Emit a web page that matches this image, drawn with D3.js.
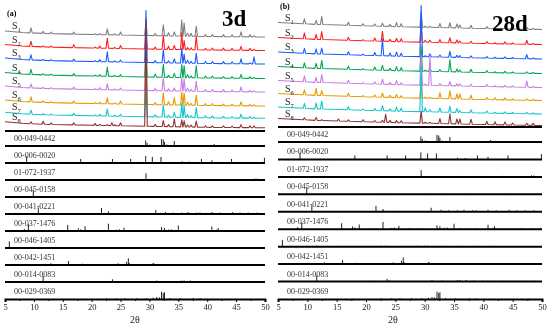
<!DOCTYPE html>
<html>
<head>
<meta charset="utf-8">
<script src="https://cdn.jsdelivr.net/npm/d3@7"></script>
<style>
  body { margin: 0; background: #fff; }
  svg { display: block; font-family: "Liberation Serif", "Times New Roman", serif; }
  svg text { font-family: "Liberation Serif", "Times New Roman", serif; }
  .txt { filter: grayscale(1); }
</style>
</head>
<body>
<svg id="chart" width="550" height="329"></svg>
<script>
// ---- data (2theta in degrees, intensities in a.u.) ----
const sampleNames = ["1", "2", "3", "4", "5", "6", "7", "8"];
const xTicks = [5, 10, 15, 20, 25, 30, 35, 40, 45, 50];

// 3 d samples: peak positions + heights of each sample at those positions
const peaks3d = [9.5, 11.6, 13.0, 16.9, 20.6, 21.4, 22.7, 23.5, 24.0, 25.0, 29.4, 31.0, 32.4, 33.3, 34.3,
                 35.6, 36.0, 36.6, 37.2, 38.1, 39.7, 40.9, 42.8, 44.3, 45.85, 47.4, 48.1];
const s1_3d = [5, 2, 1.5, 2, 1, 1, 6, 0, 1, 3, 15, 2, 11, 3, 4, 16, 13, 3, 3, 10, 2, 2, 2, 2, 5, 2, 1];
const s2_3d = [5, 1, 1, 3, 1, 2, 10, 0, 1, 3, 20, 2, 14, 3, 4, 17, 9, 2, 2, 14, 1.5, 2, 2, 2, 4, 2, 1];
const s3_3d = [5, 1, 1, 2, 1, 2, 10, 0, 1, 2, 52, 2, 13, 2, 4, 15, 9, 3, 2, 10, 2, 2, 2, 2, 5, 1, 7];
const s4_3d = [5, 1, 1, 2, 1, 1.5, 9, 0, 1, 2, 30, 3, 13, 2, 4, 13, 12, 3, 2, 12, 2, 2, 1.5, 1.5, 4, 1.5, 1];
const s5_3d = [4, 1, 1, 2, 1, 2, 6, 0, 1, 2, 30, 2, 13, 2, 3, 13, 12, 3, 2, 10, 2, 2, 2, 1.5, 5, 1.5, 1];
const s6_3d = [5, 1.5, 1, 2, 1, 1.5, 6, 0, 1, 3, 30, 2, 12, 3, 7, 13, 12, 3, 2, 10, 2, 2, 1.5, 1.5, 4, 1.5, 1];
const s7_3d = [4, 1, 1, 2, 1, 1.5, 7, 0, 1, 2, 30, 2, 12, 2, 5, 14, 12, 3, 2, 10, 2, 2, 1.5, 1.5, 4, 1.5, 1];
const s8_3d = [2, 3, 1.5, 2, 2, 1, 1, 3, 1, 3, 107, 2, 6, 2, 8, 7, 6, 2, 2, 6, 1.5, 1.5, 1.5, 1.5, 3, 2, 2];
const offset3d = [94, 80.5, 67, 52.5, 39, 25, 12.7, 3.2];
const bg3d = [[5, 6], [8, 4.5], [12, 3.5], [20, 2.5], [30, 1.5], [40, 0.5], [50, 0]];

// 28 d samples
const peaks28d = [9.5, 11.5, 12.45, 15.3, 17.0, 19.5, 21.5, 22.8, 23.35, 24.1, 25.2, 26.0, 29.4, 30.1, 30.9,
                  32.6, 34.3, 35.5, 36.0, 37.9, 40.6, 42.0, 43.7, 45.0, 47.4, 48.5];
const s1_28d = [5, 4, 8, 0, 3, 2, 2, 3, 0, 2, 4, 3, 15, 1, 1, 4, 5, 4, 3, 3, 2, 1, 2, 1, 2, 1];
const s2_28d = [6, 5, 8, 0, 3, 1, 3, 10, 0, 2, 3, 3, 15, 2, 2, 3, 5, 3, 2, 2, 2, 1, 2, 1, 4, 1];
const s3_28d = [5, 5, 6, 0, 3, 1, 3, 17, 0, 3, 4, 3, 51, 1, 3, 2, 6, 2, 2, 2, 1.5, 1, 1.5, 1, 4, 1];
const s4_28d = [5, 5, 8, 0, 3, 1, 3, 5, 0, 2, 4, 3, 25, 1, 3, 2, 12, 3, 2, 3, 2, 1, 1.5, 1, 1.5, 1];
const s5_28d = [6, 5, 8, 0, 3, 1, 2, 5, 0, 2, 4, 2, 30, 1, 30, 2, 4, 2, 2, 2, 2, 1, 1.5, 1, 6, 1];
const s6_28d = [5, 7, 5, 0, 3, 1, 2, 4, 0, 2, 3, 2, 20, 1, 1, 6, 8, 5, 5, 4, 2, 2, 2, 1, 1.5, 1];
const s7_28d = [5, 6, 8, 0, 3, 1, 2, 5, 0, 2, 4, 3, 45, 4, 2, 4, 6, 4, 2, 3, 2, 1, 1.5, 1, 1.5, 1];
const s8_28d = [2, 3, 1, 2, 1.5, 2, 1.5, 2, 8, 2, 2, 2, 12, 1, 1, 5, 10, 5, 5, 5, 3, 3, 3, 2, 2, 2];
const offset28d = [97.5, 82.5, 68, 53.5, 39.5, 26.5, 13, 1.5];
const bg28d = [[5, 7], [12, 5], [24.6, 3], [40, 1], [50, 0]];

// PDF reference cards: [2theta, relative height]
const cardNames = ["00-049-0442", "00-006-0020", "01-072-1937", "00-045-0158", "00-041-0221",
                   "00-037-1476", "00-046-1405", "00-042-1451", "00-014-0083", "00-029-0369"];
const card049_0442 = [[14.8, 1], [22.9, 1], [25.2, 1], [29.35, 5.5], [29.6, 3], [30.1, 1.5], [32.1, 7], [32.4, 6.5],
                      [32.6, 4], [33.0, 1.5], [34.3, 5], [38.6, 1], [41.2, 2], [41.6, 1], [43.9, 1], [46.5, 1], [47.1, 1]];
const card006_0020 = [[8.75, 6.7], [18.1, 4], [23.6, 4], [26.75, 4], [29.35, 7], [30.5, 6], [32.0, 6], [35.6, 1.7],
                      [36.9, 1.5], [39.0, 4], [40.8, 2.7], [44.2, 4], [49.9, 5.3]];
const card072_1937 = [[23.0, 0.8], [29.4, 6.7], [31.0, 0.8], [36.0, 1], [39.4, 1], [43.3, 1], [47.3, 1], [48.2, 1.5], [48.6, 1.3]];
const card045_0158 = [[9.9, 7.3], [22.2, 0.8], [24.3, 0.8], [31.0, 0.8], [32.8, 0.8], [37.1, 0.8], [43.8, 0.8]];
const card041_0221 = [[10.77, 6.5], [21.7, 6], [22.9, 2.7], [25.5, 1], [31.1, 4], [32.8, 2], [34.1, 1.5], [35.6, 1.5],
                      [36.7, 2], [38.2, 1.5], [38.75, 1.5], [40.8, 2], [42.2, 1.5], [44.4, 2], [45.7, 1.5], [47.1, 1.5], [48.6, 1.5]];
const card037_1476 = [[8.35, 2], [9.05, 6.7], [15.85, 6], [17.7, 2.7], [18.1, 1.7], [18.85, 4.7], [21.7, 1], [22.9, 7.3],
                      [24.3, 1.3], [24.8, 1.7], [25.6, 3.3], [27.4, 1], [29.35, 0.8], [32.1, 4], [32.6, 3], [33.3, 1.5],
                      [33.85, 1.7], [35.0, 5.5], [36.0, 1], [37.0, 0.8], [38.75, 0.8], [40.8, 4.5], [41.6, 1.3], [41.9, 3],
                      [42.2, 0.8], [43.9, 0.8], [45.7, 0.8], [46.5, 1], [48.3, 0.8], [49.7, 0.8]];
const card046_1405 = [[5.75, 6.7], [7.1, 0.8], [9.9, 0.8], [11.6, 1], [16.0, 0.8], [16.8, 0.8], [18.0, 0.8], [20.3, 0.8],
                      [21.4, 0.8], [22.6, 1], [23.3, 1], [24.0, 0.8], [26.9, 0.8], [28.1, 0.8], [28.9, 1], [30.0, 1],
                      [30.55, 1], [31.25, 0.8], [32.1, 0.8], [33.55, 0.8], [35.9, 0.8], [36.7, 0.8], [38.75, 0.8], [41.05, 0.8]];
const card042_1451 = [[12.95, 1.7], [16.0, 4], [18.4, 1.3], [24.6, 1.7], [26.05, 3.3], [26.35, 6.7], [26.5, 2], [30.65, 2],
                      [30.8, 1.5], [32.7, 0.8], [33.55, 0.8], [36.15, 0.8], [37.3, 0.8], [38.75, 0.8], [41.05, 0.8],
                      [42.3, 0.8], [43.9, 0.8], [45.7, 0.8], [48.6, 0.8], [49.4, 0.8]];
const card014_0083 = [[11.6, 6], [20.6, 0.8], [23.6, 2.7], [24.0, 1], [31.25, 1.5], [33.0, 1], [35.6, 1.5], [36.0, 1.5],
                      [37.1, 1.5], [38.45, 1], [39.9, 1], [41.6, 0.8], [43.4, 0.8], [44.5, 0.8], [45.7, 0.8], [47.1, 0.8], [48.9, 0.8]];
const card029_0369 = [[22.6, 0.8], [24.3, 0.8], [25.8, 0.8], [27.8, 0.8], [29.5, 0.8], [30.65, 1.3], [31.25, 2], [31.7, 1.7],
                      [32.1, 7.3], [32.4, 6], [32.6, 6.7], [33.55, 1], [35.3, 0.8], [37.6, 1], [38.75, 0.8]];

const cards = [card049_0442, card006_0020, card072_1937, card045_0158, card041_0221,
               card037_1476, card046_1405, card042_1451, card014_0083, card029_0369];

// ---- style ----
const colors = ["#808080", "#ff1e1e", "#1a5cff", "#00a650", "#c77de6", "#e59a00", "#12c6cf", "#8c3333"];
const halfWidth = 0.22; // peak half width in degrees
const serif = "Liberation Serif";

const svg = d3.select("#chart");

const panels = [
  { tag: "(a)", tagPos: [7, 16], age: "3d", agePos: [222, 26], range: [5, 265], traceBase: 131, firstRow: 146,
    peaks: peaks3d, series: [s1_3d, s2_3d, s3_3d, s4_3d, s5_3d, s6_3d, s7_3d, s8_3d], offsets: offset3d, bg: bg3d,
    xLabelAt: 27.5 },
  { tag: "(b)", tagPos: [280, 9], age: "28d", agePos: [492, 31], range: [278, 542], traceBase: 127, firstRow: 142,
    peaks: peaks28d, series: [s1_28d, s2_28d, s3_28d, s4_28d, s5_28d, s6_28d, s7_28d, s8_28d], offsets: offset28d, bg: bg28d,
    xLabelAt: 24.6 }
];
const axisY = 299;

panels.forEach(p => {
  const x = d3.scaleLinear().domain([5, 50]).range(p.range);
  const y = d3.scaleLinear().domain([0, 130]).range([p.traceBase, p.traceBase - 130]);
  const base = d3.scaleLinear().domain(p.bg.map(d => d[0])).range(p.bg.map(d => d[1]));
  const line = d3.line().x(d => x(d[0])).y(d => y(d[1]));
  const g = svg.append("g");
  const labels = svg.append("g").attr("class", "txt");

  // sample traces
  p.series.forEach((hts, i) => {
    const off = p.offsets[i];
    const pts = p.bg.map(d => [d[0], off + d[1]]);
    p.peaks.forEach((t, k) => {
      if (!hts[k]) return;
      const b = off + base(t);
      pts.push([t - halfWidth, b], [t, b + hts[k]], [t + halfWidth, b]);
    });
    pts.sort((a, b) => a[0] - b[0]);
    g.append("path")
      .attr("d", line(pts))
      .attr("fill", "none")
      .attr("stroke", colors[i])
      .attr("stroke-width", 1.1)
      .attr("stroke-linejoin", "round");

    const lab = labels.append("text")
      .attr("x", p.range[0] + 7)
      .attr("y", y(off + p.bg[0][1]) - 2)
      .attr("font-size", 10)
      .attr("fill", "#222")
      .text("S");
    lab.append("tspan")
      .attr("font-size", 6.5)
      .attr("dy", 3)
      .text(sampleNames[i]);
  });

  // reference cards
  const row = d3.scaleLinear().domain([0, cards.length - 1]).range([p.firstRow, axisY]);
  const stick = d3.scaleLinear().domain([0, 8]).range([0, 8]);

  g.append("line")
    .attr("x1", p.range[0]).attr("x2", p.range[1])
    .attr("y1", p.traceBase).attr("y2", p.traceBase)
    .attr("stroke", "#000").attr("stroke-width", 2);

  cards.forEach((card, i) => {
    const yb = row(i);
    labels.append("text")
      .attr("x", p.range[0] + 9)
      .attr("y", yb - 5)
      .attr("font-size", 8)
      .attr("fill", "#333")
      .text(cardNames[i]);
    g.selectAll(null)
      .data(card)
      .join("line")
      .attr("x1", d => x(d[0])).attr("x2", d => x(d[0]))
      .attr("y1", yb).attr("y2", d => yb - stick(d[1]))
      .attr("stroke", "#222").attr("stroke-width", 1);
    if (i < cards.length - 1) {
      g.append("line")
        .attr("x1", p.range[0]).attr("x2", p.range[1])
        .attr("y1", yb).attr("y2", yb)
        .attr("stroke", "#000").attr("stroke-width", 2);
    }
  });

  // x axis
  const ax = g.append("g")
    .attr("transform", "translate(0," + axisY + ")")
    .call(d3.axisBottom(x).tickValues(xTicks).tickSize(3).tickPadding(2).tickFormat(d3.format("d")));
  ax.attr("font-family", serif).attr("class", "txt");
  ax.select(".domain").attr("stroke-width", 2);
  ax.selectAll("text").attr("font-size", 8.5).attr("fill", "#222");
  const minor = g.append("g")
    .attr("transform", "translate(0," + axisY + ")")
    .call(d3.axisBottom(x).tickValues(d3.range(7.5, 50, 5)).tickSize(2).tickFormat(""));
  minor.select(".domain").remove();

  labels.append("text")
    .attr("x", x(p.xLabelAt))
    .attr("y", 323)
    .attr("text-anchor", "middle")
    .attr("font-size", 10)
    .attr("fill", "#222")
    .text("2θ");

  labels.append("text")
    .attr("x", p.tagPos[0]).attr("y", p.tagPos[1])
    .attr("font-size", 8).attr("font-weight", "bold")
    .text(p.tag);
  labels.append("text")
    .attr("x", p.agePos[0]).attr("y", p.agePos[1])
    .attr("font-size", 23).attr("font-weight", "bold")
    .text(p.age);
});
</script>
</body>
</html>
